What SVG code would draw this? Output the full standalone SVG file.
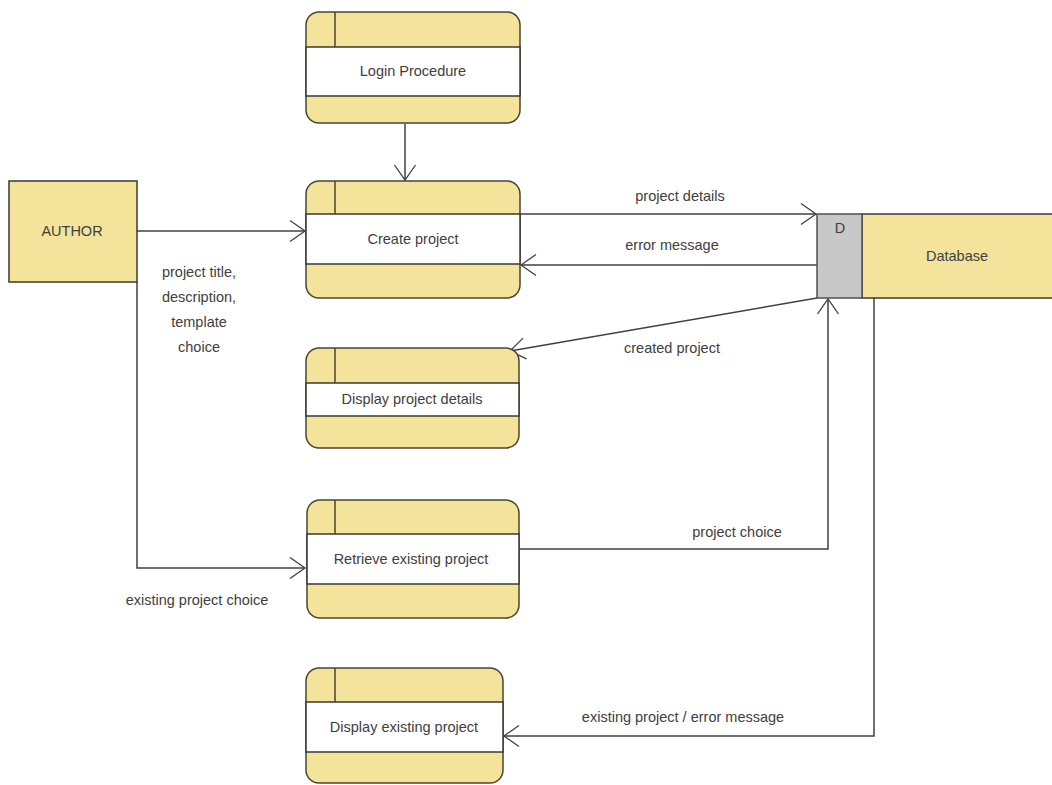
<svg xmlns="http://www.w3.org/2000/svg" width="1052" height="785" viewBox="0 0 1052 785">
<defs>
<marker id="arr" markerWidth="18" markerHeight="24" refX="16" refY="12" orient="auto" markerUnits="userSpaceOnUse">
<path d="M1,1.5 L16,12 L1,22.5" fill="none" stroke="#404040" stroke-width="1.3"/>
</marker>
</defs>
<style>
.proc{fill:#F3E39B;stroke:#4a4530;stroke-width:1.5}
.band{fill:#ffffff;stroke:#3a3a30;stroke-width:1.5}
.div{stroke:#4a4530;stroke-width:1.5}
.t{font-family:"Liberation Sans",Arial,sans-serif;font-size:14.5px;fill:#404040;text-anchor:middle}
.c{fill:none;stroke:#404040;stroke-width:1.5}
</style>
<rect width="1052" height="785" fill="#ffffff"/>

<g id="connectors">
<line class="c" x1="405" y1="124" x2="405" y2="180" marker-end="url(#arr)"/>
<line class="c" x1="137" y1="231" x2="305" y2="231" marker-end="url(#arr)"/>
<polyline class="c" points="137,282 137,568 305,568" marker-end="url(#arr)"/>
<line class="c" x1="520" y1="214" x2="816" y2="214" marker-end="url(#arr)"/>
<line class="c" x1="817" y1="265" x2="521" y2="265" marker-end="url(#arr)"/>
<line class="c" x1="817" y1="298" x2="510" y2="351" marker-end="url(#arr)"/>
<polyline class="c" points="519,549 828,549 828,299" marker-end="url(#arr)"/>
<polyline class="c" points="874,298 874,736 504,736" marker-end="url(#arr)"/>
<text class="t" x="680" y="201">project details</text>
<text class="t" x="672" y="250">error message</text>
<text class="t" x="672" y="353">created project</text>
<text class="t" x="737" y="537">project choice</text>
<text class="t" x="683" y="722">existing project / error message</text>
<text class="t" x="197" y="605">existing project choice</text>
<text class="t" x="199" y="277">project title,</text>
<text class="t" x="199" y="302">description,</text>
<text class="t" x="199" y="327">template</text>
<text class="t" x="199" y="352">choice</text>
</g>

<g id="author">
<rect x="9" y="181" width="128" height="101" fill="#F3E39B" stroke="#3a3a30" stroke-width="1.5"/>
<text class="t" x="72" y="236">AUTHOR</text>
</g>

<g id="login">
<rect class="proc" x="306" y="12" width="214" height="111" rx="13"/>
<rect class="band" x="306" y="47" width="214" height="49"/>
<line class="div" x1="335" y1="12" x2="335" y2="47"/>
<text class="t" x="413" y="76">Login Procedure</text>
</g>

<g id="create">
<rect class="proc" x="306" y="181" width="214" height="117" rx="13"/>
<rect class="band" x="306" y="214" width="214" height="50"/>
<line class="div" x1="335" y1="181" x2="335" y2="214"/>
<text class="t" x="413" y="244">Create project</text>
</g>

<g id="display-details">
<rect class="proc" x="306" y="348" width="213" height="100" rx="13"/>
<rect class="band" x="306" y="383" width="213" height="33"/>
<line class="div" x1="335" y1="348" x2="335" y2="383"/>
<text class="t" x="412" y="404">Display project details</text>
</g>

<g id="retrieve">
<rect class="proc" x="307" y="500" width="212" height="118" rx="13"/>
<rect class="band" x="307" y="534" width="212" height="50"/>
<line class="div" x1="335" y1="500" x2="335" y2="534"/>
<text class="t" x="411" y="564">Retrieve existing project</text>
</g>

<g id="display-existing">
<rect class="proc" x="306" y="668" width="197" height="115" rx="13"/>
<rect class="band" x="306" y="702" width="197" height="50"/>
<line class="div" x1="335" y1="668" x2="335" y2="702"/>
<text class="t" x="404" y="732">Display existing project</text>
</g>

<g id="database">
<rect x="862" y="214" width="200" height="84" fill="#F3E39B" stroke="#3a3a30" stroke-width="1.5"/>
<rect x="817" y="214" width="45" height="84" fill="#C8C8C8" stroke="#505050" stroke-width="1.5"/>
<text class="t" x="840" y="233">D</text>
<text class="t" x="957" y="261">Database</text>
</g>
</svg>
